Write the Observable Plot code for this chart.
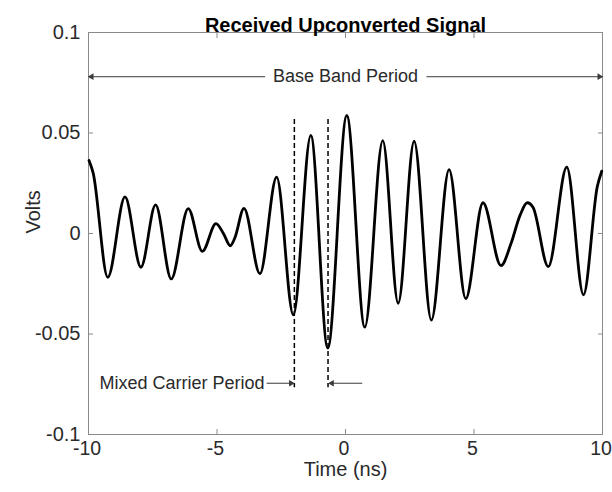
<!DOCTYPE html>
<html>
<head>
<meta charset="utf-8">
<script src="https://cdn.jsdelivr.net/npm/d3@7"></script>
<script src="https://cdn.jsdelivr.net/npm/@observablehq/plot@0.6"></script>
<style>
  html, body { margin: 0; padding: 0; background: #fff; }
  #chart svg { display: block; }
</style>
</head>
<body>
<div id="chart"></div>
<script>
// Signal samples (time in ns, volts)
const timeNs = [-9.98, -9.82, -9.25, -8.58, -7.96, -7.39, -6.78, -6.12, -5.57, -5.04, -4.75, -4.48, -4.30, -3.95, -3.33, -2.68, -2.03, -1.35, -0.69, 0.05, 0.75, 1.45, 2.05, 2.67, 3.34, 4.03, 4.68, 5.35, 6.05, 6.44, 6.79, 7.07, 7.30, 7.89, 8.61, 9.26, 9.80, 9.97];
const volts  = [0.0363, 0.0302, -0.0218, 0.0182, -0.0168, 0.0142, -0.0226, 0.0124, -0.0089, 0.0049, 0.0000, -0.0061, -0.0020, 0.0125, -0.0200, 0.0280, -0.0405, 0.0488, -0.0570, 0.0587, -0.0466, 0.0462, -0.0347, 0.0459, -0.0431, 0.0318, -0.0324, 0.0153, -0.0160, -0.0050, 0.0090, 0.0153, 0.0129, -0.0165, 0.0330, -0.0305, 0.0235, 0.0310];

const xTicks = [-10, -5, 0, 5, 10];
const yTicks = [-0.1, -0.05, 0, 0.05, 0.1];

// Annotations
const carrierMarksX = [-1.99, -0.68];
const carrierMarkTop = 0.0567;
const carrierMarkBottom = -0.0768;
const baseBandY = 0.078;
const baseBandArrows = [ {from: -3.13, to: -9.88, dir: -1}, {from: 3.15, to: 9.88, dir: 1} ];
const carrierY = -0.0745;
const carrierArrows = [ {from: -3.07, to: -2.12, dir: 1}, {from: 0.65, to: -0.53, dir: -1} ];
const labels = {
  title: "Received Upconverted Signal",
  xLabel: "Time (ns)",
  yLabel: "Volts",
  baseBand: "Base Band Period",
  carrier: "Mixed Carrier Period"
};

const signal = timeNs.map((t, i) => ({t, v: volts[i]}));
const fmt = d => String(d);
const axisColor = "#8a8a8a";
const textColor = "#2a2a2a";
const arrowColor = "#3a3a3a";
const font = "'Liberation Sans', Arial, Helvetica, sans-serif";

function arrowMarks(arr, yv) {
  return [
    Plot.link(arr, {x1: d => d.from, x2: d => d.to, y1: yv, y2: yv, stroke: arrowColor, strokeWidth: 1}),
    Plot.dot(arr, {x: d => d.to, y: yv, symbol: "triangle2", r: 3.2, fill: arrowColor, stroke: "none",
      rotate: d => d.dir > 0 ? 90 : -90})
  ];
}

const chart = Plot.plot({
  width: 612,
  height: 492,
  marginLeft: 88,
  marginRight: 10,
  marginTop: 32,
  marginBottom: 58,
  style: {fontFamily: font, background: "#fff", color: textColor},
  x: {domain: [-10, 10]},
  y: {domain: [-0.1, 0.1]},
  marks: [
    Plot.frame({stroke: axisColor}),
    // inward tick marks on all four sides
    Plot.axisX(xTicks, {anchor: "bottom", tickSize: -5, fill: "none", stroke: axisColor, label: null}),
    Plot.axisX(xTicks, {anchor: "top", tickSize: -5, fill: "none", stroke: axisColor, label: null}),
    Plot.axisY(yTicks, {anchor: "left", tickSize: -5, fill: "none", stroke: axisColor, label: null}),
    Plot.axisY(yTicks, {anchor: "right", tickSize: -5, fill: "none", stroke: axisColor, label: null}),
    // tick labels
    Plot.axisX(xTicks, {anchor: "bottom", tickSize: 0, tickPadding: 7, dx: -1.5, tickFormat: fmt, fontSize: 19.5, fill: textColor, label: null}),
    Plot.axisY(yTicks, {anchor: "left", tickSize: 0, tickPadding: 8, tickFormat: fmt, fontSize: 20, fill: textColor, label: null}),
    // axis titles
    Plot.text([labels.xLabel], {frameAnchor: "bottom", dy: 41, fontSize: 20, fill: textColor}),
    Plot.text([labels.yLabel], {frameAnchor: "left", dx: -55, rotate: -90, fontSize: 20, fill: textColor}),
    Plot.text([labels.title], {frameAnchor: "top", dy: -15, fontSize: 20, fontWeight: "bold", fill: "#000"}),
    // dashed carrier markers
    Plot.ruleX(carrierMarksX, {x: d => d, y1: carrierMarkTop, y2: carrierMarkBottom, stroke: "#000", strokeWidth: 1.5, strokeDasharray: "5,3"}),
    // base band annotation
    ...arrowMarks(baseBandArrows, baseBandY),
    Plot.text([labels.baseBand], {x: 0, y: baseBandY, fontSize: 18, fill: textColor, textAnchor: "middle"}),
    // mixed carrier annotation
    ...arrowMarks(carrierArrows, carrierY),
    Plot.text([labels.carrier], {x: -3.15, y: carrierY, fontSize: 18, fill: textColor, textAnchor: "end"}),
    // the signal
    Plot.line(signal, {x: "t", y: "v", curve: "monotone-x", stroke: "#000", strokeWidth: 2.8})
  ]
});
document.getElementById("chart").appendChild(chart);
</script>
</body>
</html>
